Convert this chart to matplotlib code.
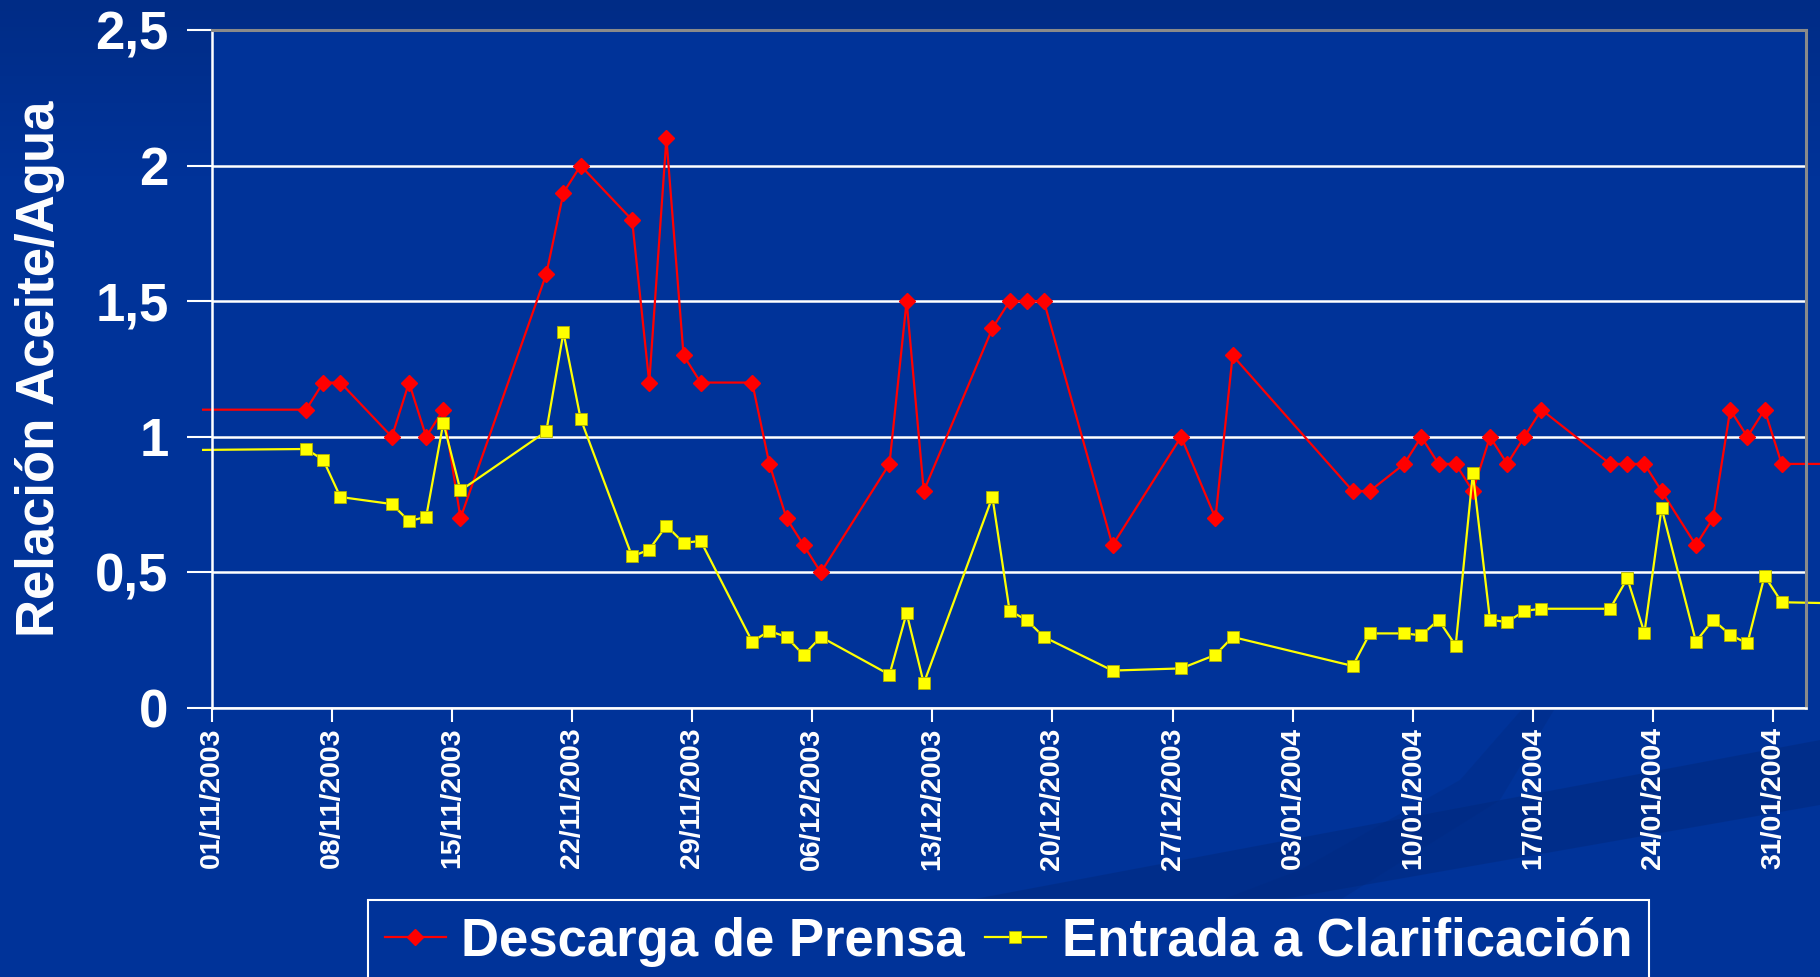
import numpy as np
import matplotlib
matplotlib.use("Agg")
import matplotlib.pyplot as plt
import matplotlib.dates as mdates
from matplotlib.ticker import FuncFormatter
from matplotlib.transforms import Bbox, TransformedBbox
from matplotlib.patches import Polygon

plt.rcParams["font.family"] = ["Liberation Sans", "DejaVu Sans"]
plt.rcParams["font.weight"] = "bold"

# Sample dates (first and last entries lie just outside the plotted window)
dates = ["2003-10-28",
         "2003-11-06", "2003-11-07", "2003-11-08", "2003-11-11", "2003-11-12",
         "2003-11-13", "2003-11-14", "2003-11-15", "2003-11-20", "2003-11-21",
         "2003-11-22", "2003-11-25", "2003-11-26", "2003-11-27", "2003-11-28",
         "2003-11-29", "2003-12-02", "2003-12-03", "2003-12-04", "2003-12-05",
         "2003-12-06", "2003-12-10", "2003-12-11", "2003-12-12", "2003-12-16",
         "2003-12-17", "2003-12-18", "2003-12-19", "2003-12-23", "2003-12-27",
         "2003-12-29", "2003-12-30", "2004-01-06", "2004-01-07", "2004-01-09",
         "2004-01-10", "2004-01-11", "2004-01-12", "2004-01-13", "2004-01-14",
         "2004-01-15", "2004-01-16", "2004-01-17", "2004-01-21", "2004-01-22",
         "2004-01-23", "2004-01-24", "2004-01-26", "2004-01-27", "2004-01-28",
         "2004-01-29", "2004-01-30", "2004-01-31",
         "2004-02-04"]

prensa = [1.1,
          1.1, 1.2, 1.2, 1.0, 1.2, 1.0, 1.1, 0.7, 1.6, 1.9,
          2.0, 1.8, 1.2, 2.1, 1.3, 1.2, 1.2, 0.9, 0.7, 0.6,
          0.5, 0.9, 1.5, 0.8, 1.4, 1.5, 1.5, 1.5, 0.6, 1.0,
          0.7, 1.3, 0.8, 0.8, 0.9, 1.0, 0.9, 0.9, 0.8, 1.0,
          0.9, 1.0, 1.1, 0.9, 0.9, 0.9, 0.8, 0.6, 0.7, 1.1,
          1.0, 1.1, 0.9,
          0.9]

clarif = [0.95,
          0.955, 0.915, 0.778, 0.752, 0.689, 0.705, 1.052, 0.802, 1.02, 1.385,
          1.067, 0.559, 0.584, 0.672, 0.609, 0.616, 0.245, 0.284, 0.262, 0.195,
          0.262, 0.123, 0.35, 0.091, 0.778, 0.359, 0.324, 0.262, 0.138, 0.146,
          0.196, 0.262, 0.155, 0.275, 0.275, 0.268, 0.325, 0.23, 0.865, 0.325,
          0.317, 0.358, 0.366, 0.366, 0.478, 0.277, 0.738, 0.245, 0.325, 0.27,
          0.238, 0.487, 0.39,
          0.385]

y_ticks = [0, 0.5, 1, 1.5, 2, 2.5]
labels = ["Descarga de Prensa", "Entrada a Clarificación"]

W, H = 1820, 977
fig = plt.figure(figsize=(W / 100, H / 100), dpi=100)

# background: blue gradient with darker swooshes
bg = fig.add_axes([0, 0, 1, 1], zorder=-5)
grad = np.linspace(0, 1, 256).reshape(-1, 1)
top = np.array([0x00, 0x2C, 0x86]) / 255
mid = np.array([0x00, 0x33, 0x99]) / 255
t = np.clip(grad / 0.18, 0, 1)
img = top * (1 - t)[..., None] + mid * t[..., None]
bg.imshow(img, extent=[0, W, H, 0], aspect="auto")
bg.add_patch(Polygon([(560, 977), (1820, 740), (1820, 805), (840, 977)],
                     closed=True, color="#00297d", alpha=0.5, lw=0))
bg.add_patch(Polygon([(1020, 977), (1300, 870), (1460, 780), (1530, 700),
                      (1560, 700), (1500, 800), (1340, 900), (1150, 977)],
                     closed=True, color="#00297d", alpha=0.3, lw=0))
bg.set_xlim(0, W)
bg.set_ylim(H, 0)
bg.axis("off")

ax = fig.add_axes([211.7 / W, 1 - 708 / H, (1806 - 211.7) / W, (708 - 30) / H])
ax.set_facecolor("#003399")

x = np.array(dates, dtype="datetime64[D]") + np.timedelta64(12, "h")
l1, = ax.plot(x, prensa, color="#ff0000", lw=1.6, marker="D", ms=8.5,
              mfc="#ff0000", mec="#ff0000", label=labels[0])
l2, = ax.plot(x, clarif, color="#ffff00", lw=1.6, marker="s", ms=9,
              mfc="#ffff00", mec="#b0b000", mew=0.6, label=labels[1])

clip = TransformedBbox(Bbox([[-0.006, -0.02], [1.01, 1.02]]), ax.transAxes)
for ln in (l1, l2):
    ln.set_clip_box(clip)

ax.set_xlim(np.datetime64("2003-11-01T00"), np.datetime64("2004-02-01T22"))
ax.set_ylim(0, 2.5)

ax.set_xticks(np.arange(np.datetime64("2003-11-01"), np.datetime64("2004-02-01"), 7))
ax.xaxis.set_major_formatter(mdates.DateFormatter("%d/%m/%Y"))
ax.set_yticks(y_ticks)
ax.yaxis.set_major_formatter(FuncFormatter(lambda v, p: f"{v:g}".replace(".", ",")))

ax.tick_params(axis="x", colors="white", labelsize=20.5, length=10, width=1.5,
               pad=4, labelrotation=90)
ax.tick_params(axis="y", colors="white", labelsize=38, length=18, width=1.5, pad=13)

ax.set_axisbelow(True)
ax.yaxis.grid(True, color="white", lw=1.8)
ax.spines["left"].set_color("white")
ax.spines["bottom"].set_color("white")
ax.spines["left"].set_linewidth(1.8)
ax.spines["bottom"].set_linewidth(1.8)
ax.spines["top"].set_color("#8a8a8a")
ax.spines["right"].set_color("#8a8a8a")
ax.spines["top"].set_linewidth(2.2)
ax.spines["right"].set_linewidth(2.2)

fig.text(40 / W, 1 - 369 / H, "Relación Aceite/Agua", rotation=90, color="white",
         fontsize=38, fontweight="bold", ha="center", va="center")

leg = fig.legend(handles=[l1, l2], loc="upper left", ncol=2,
                 bbox_to_anchor=(368 / W, 1 - 900 / H), borderaxespad=0,
                 fontsize=38, frameon=True, fancybox=False, framealpha=1,
                 handlelength=1.15, handletextpad=0.3, columnspacing=0.38,
                 borderpad=0.32)
leg.get_frame().set_facecolor("#003399")
leg.get_frame().set_edgecolor("white")
leg.get_frame().set_linewidth(1.5)
for txt in leg.get_texts():
    txt.set_color("white")

fig.savefig("out.png", dpi=100)
